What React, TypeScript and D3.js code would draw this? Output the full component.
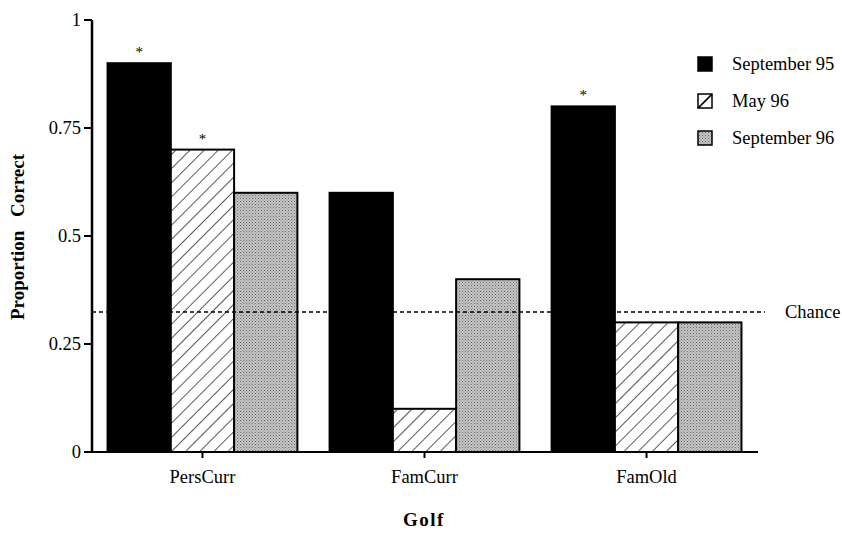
import { useRef, useEffect } from "react";
import * as d3 from "d3";

const groups = ["PersCurr", "FamCurr", "FamOld"];
const seriesNames = ["September 95", "May 96", "September 96"];
const values = [
  [0.9, 0.7, 0.6],
  [0.6, 0.1, 0.4],
  [0.8, 0.3, 0.3],
];
const starred = [
  [true, true, false],
  [false, false, false],
  [true, false, false],
];
const yTicks = [0, 0.25, 0.5, 0.75, 1];
const yTickLabels = ["0", "0.25", "0.5", "0.75", "1"];
const chance = 0.324;

export default function App() {
  const ref = useRef<SVGSVGElement>(null);

  useEffect(() => {
    if (!ref.current) return;
    const W = 842, H = 535;
    const svg = d3.select(ref.current);
    svg.selectAll("*").remove();
    svg.attr("width", W).attr("height", H);
    const font = "'Liberation Serif', 'Times New Roman', serif";
    const fs = 18.5;

    const defs = svg.append("defs");
    const hatch = defs.append("pattern").attr("id", "hatch").attr("patternUnits", "userSpaceOnUse")
      .attr("width", 10).attr("height", 10).attr("patternTransform", "rotate(45)");
    hatch.append("rect").attr("width", 10).attr("height", 10).attr("fill", "#fff");
    hatch.append("line").attr("x1", 0).attr("y1", 0).attr("x2", 0).attr("y2", 10)
      .attr("stroke", "#000").attr("stroke-width", 1.3);
    const dots = defs.append("pattern").attr("id", "dots").attr("patternUnits", "userSpaceOnUse")
      .attr("width", 3).attr("height", 3);
    dots.append("rect").attr("width", 3).attr("height", 3).attr("fill", "#c4c4c4");
    dots.append("rect").attr("width", 1).attr("height", 1).attr("fill", "#6a6a6a");
    dots.append("rect").attr("x", 1.5).attr("y", 1.5).attr("width", 1).attr("height", 1).attr("fill", "#8a8a8a");

    const fills = ["#000", "url(#hatch)", "url(#dots)"];

    const x0 = d3.scaleBand().domain(groups).range([92, 757]).paddingInner(0.145).paddingOuter(0.07);
    const x1 = d3.scaleBand().domain(seriesNames).range([0, x0.bandwidth()]);
    const y = d3.scaleLinear().domain([0, 1]).range([452, 20]);

    const g = svg.append("g");
    groups.forEach((grp, gi) => {
      seriesNames.forEach((s, si) => {
        const v = values[gi][si];
        const bx = x0(grp)! + x1(s)!;
        g.append("rect").attr("x", bx).attr("y", y(v)).attr("width", x1.bandwidth())
          .attr("height", y(0) - y(v)).attr("fill", fills[si])
          .attr("stroke", "#000").attr("stroke-width", 2);
        if (starred[gi][si]) {
          g.append("text").attr("x", bx + x1.bandwidth() / 2).attr("y", y(v) - 6)
            .attr("text-anchor", "middle").attr("font-family", font).attr("font-size", 15)
            .text("*");
        }
      });
    });

    // chance line
    svg.append("line").attr("x1", 92).attr("x2", 765)
      .attr("y1", y(chance)).attr("y2", y(chance))
      .attr("stroke", "#000").attr("stroke-width", 1.6).attr("stroke-dasharray", "4,3");
    svg.append("text").attr("x", 785).attr("y", y(chance) + 6).attr("font-family", font)
      .attr("font-size", fs).text("Chance");

    // y axis
    svg.append("line").attr("x1", 92).attr("x2", 92).attr("y1", y(1)).attr("y2", y(0))
      .attr("stroke", "#000").attr("stroke-width", 2.5);
    yTicks.forEach((t, i) => {
      svg.append("line").attr("x1", 84).attr("x2", 92).attr("y1", y(t)).attr("y2", y(t))
        .attr("stroke", "#000").attr("stroke-width", 2);
      svg.append("text").attr("x", 81).attr("y", y(t) + 6).attr("text-anchor", "end")
        .attr("font-family", font).attr("font-size", fs).text(yTickLabels[i]);
    });

    // x axis
    svg.append("line").attr("x1", 91).attr("x2", 758).attr("y1", y(0)).attr("y2", y(0))
      .attr("stroke", "#000").attr("stroke-width", 2);
    groups.forEach((grp) => {
      const cx = x0(grp)! + x0.bandwidth() / 2;
      svg.append("line").attr("x1", cx).attr("x2", cx).attr("y1", y(0)).attr("y2", y(0) + 6)
        .attr("stroke", "#000").attr("stroke-width", 2);
      svg.append("text").attr("x", cx).attr("y", 483).attr("text-anchor", "middle")
        .attr("font-family", font).attr("font-size", fs).text(grp);
    });

    svg.append("text").attr("x", 424).attr("y", 526).attr("text-anchor", "middle")
      .attr("font-family", font).attr("font-size", 19).attr("font-weight", "bold")
      .attr("letter-spacing", 1.5).text("Golf");
    svg.append("text").attr("transform", `translate(24,237) rotate(-90)`).attr("text-anchor", "middle")
      .attr("font-family", font).attr("font-size", 19).attr("font-weight", "bold")
      .attr("word-spacing", 9).text("Proportion Correct");

    // legend
    seriesNames.forEach((s, i) => {
      const ly = 64 + i * 37;
      svg.append("rect").attr("x", 698).attr("y", ly - 7).attr("width", 14).attr("height", 14)
        .attr("fill", fills[i]).attr("stroke", "#000").attr("stroke-width", 1.5);
      if (i === 1) {
        svg.append("line").attr("x1", 698).attr("y1", ly + 7).attr("x2", 712).attr("y2", ly - 7)
          .attr("stroke", "#000").attr("stroke-width", 1.5);
      }
      svg.append("text").attr("x", 732).attr("y", ly + 6).attr("font-family", font)
        .attr("font-size", fs).text(s);
    });
  }, []);

  return <svg ref={ref} style={{ position: "absolute", left: 0, top: 0 }} />;
}
